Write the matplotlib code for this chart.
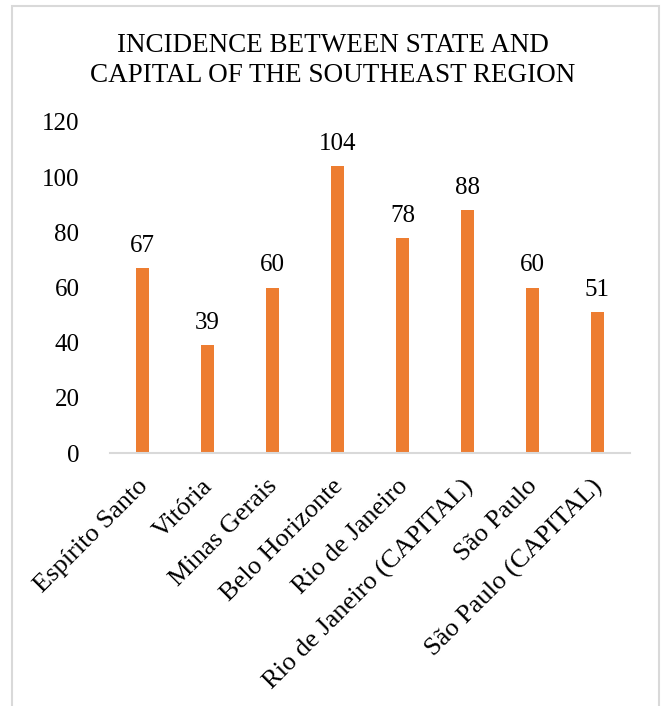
from matplotlib import pyplot as plt
from matplotlib.patches import Rectangle
from matplotlib.transforms import ScaledTranslation

categories = ["Espírito Santo", "Vitória", "Minas Gerais", "Belo Horizonte",
              "Rio de Janeiro", "Rio de Janeiro (CAPITAL)", "São Paulo",
              "São Paulo (CAPITAL)"]
values = [67, 39, 60, 104, 78, 88, 60, 51]
yticks = [0, 20, 40, 60, 80, 100, 120]

plt.rcParams["font.family"] = ["Liberation Serif", "DejaVu Serif"]

fig = plt.figure(figsize=(6.65, 7.06), dpi=100)
ax = fig.add_axes([110 / 665, 1 - 453 / 706, 520 / 665, 331 / 706])

x = range(len(categories))
ax.bar(x, values, width=0.19, color="#ED7D31")
for xi, v in zip(x, values):
    ax.text(xi, v + 4, str(v), ha="center", va="bottom", fontsize=18)

ax.set_xlim(-0.5, len(categories) - 0.5)
ax.set_ylim(0, 120)
ax.set_yticks(yticks)
ax.set_xticks(list(x))
ax.set_xticklabels(categories, rotation=45, ha="right", rotation_mode="anchor",
                   fontsize=19)
ax.tick_params(axis="y", labelsize=18, length=0, pad=22)
ax.tick_params(axis="x", length=0, pad=16)
# shift the rotated labels a little to the left
shift = ScaledTranslation(-6 / 100, 0, fig.dpi_scale_trans)
for lbl in ax.get_xticklabels():
    lbl.set_transform(lbl.get_transform() + shift)
for s in ("top", "right", "left"):
    ax.spines[s].set_visible(False)
ax.spines["bottom"].set_color("#D9D9D9")
ax.spines["bottom"].set_linewidth(1.5)

fig.text(0.5, 1 - 45 / 706, "INCIDENCE BETWEEN STATE AND", ha="center",
         va="center", fontsize=19.5)
fig.text(0.5, 1 - 76 / 706, "CAPITAL OF THE SOUTHEAST REGION", ha="center",
         va="center", fontsize=19.5)

fig.patches.append(Rectangle((12 / 665, -0.01), 647 / 665, 1 - 6 / 706 + 0.01,
                             transform=fig.transFigure, fill=False,
                             edgecolor="#D9D9D9", linewidth=1.5))

fig.savefig("out.png", dpi=100)
